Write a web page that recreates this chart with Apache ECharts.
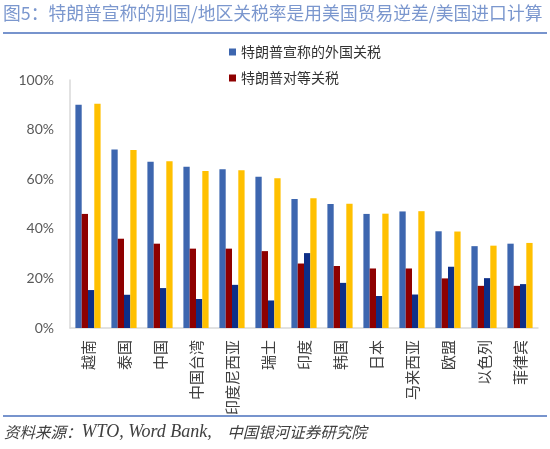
<!DOCTYPE html>
<html>
<head>
<meta charset="utf-8">
<script src="https://cdn.jsdelivr.net/npm/echarts@6/dist/echarts.min.js"></script>
<style>
html,body{margin:0;padding:0;background:#fff;}
#c{width:550px;height:449px;}
</style>
</head>
<body>
<div id="c"></div>
<script>
const categories = ['越南','泰国','中国','中国台湾','印度尼西亚','瑞士','印度','韩国','日本','马来西亚','欧盟','以色列','菲律宾'];
const claimedTariff = [90, 72, 67, 65, 64, 61, 52, 50, 46, 47, 39, 33, 34];
const reciprocalTariff = [46, 36, 34, 32, 32, 31, 26, 25, 24, 24, 20, 17, 17];
const series3 = [15.3, 13.4, 16.1, 11.7, 17.4, 11.1, 30.2, 18.2, 12.9, 13.5, 24.7, 20.1, 17.7];
const series4 = [90.4, 71.8, 67.2, 63.3, 63.6, 60.4, 52.3, 50.1, 46.1, 47.1, 38.9, 33.2, 34.3];
const yTicks = [0, 20, 40, 60, 80, 100];

const CJK = '"Noto Sans CJK SC", "Noto Sans", sans-serif';
const chart = echarts.init(document.getElementById('c'));
chart.setOption({
  animation: false,
  textStyle: { fontFamily: CJK },
  graphic: [
    { type: 'text', left: 3, top: 4, style: { text: '图5：特朗普宣称的别国/地区关税率是用美国贸易逆差/美国进口计算', fill: '#7B97CE', font: '17.8px ' + CJK } },
    { type: 'line', shape: { x1: 3, y1: 33, x2: 547, y2: 33 }, style: { stroke: '#4A70BC', lineWidth: 1.5 } },
    { type: 'line', shape: { x1: 3, y1: 416, x2: 547, y2: 416 }, style: { stroke: '#4A70BC', lineWidth: 1.5 } },
    { type: 'text', left: 4, top: 423, style: {
      text: '{c|资料来源：}{l|WTO, Word Bank,}{c|　中国银河证券研究院}',
      rich: {
        c: { fill: '#404040', fontStyle: 'italic', fontSize: 15.5, fontFamily: CJK },
        l: { fill: '#404040', fontStyle: 'italic', fontSize: 18, fontFamily: '"Liberation Serif", serif' }
      }
    } }
  ],
  legend: {
    data: ['特朗普宣称的外国关税', '特朗普对等关税'],
    orient: 'vertical',
    left: 224,
    top: 40,
    itemWidth: 7,
    itemHeight: 7,
    itemGap: 12,
    icon: 'rect',
    textStyle: { fontSize: 14, color: '#333', fontFamily: CJK }
  },
  grid: { left: 70, right: 12, top: 80, bottom: 121, containLabel: false },
  xAxis: {
    type: 'category',
    data: categories,
    axisLine: { lineStyle: { color: '#D9D9D9', width: 1.5 } },
    axisTick: { show: false },
    axisLabel: { rotate: 90, interval: 0, margin: 12, fontSize: 15, color: '#404040', fontFamily: CJK }
  },
  yAxis: {
    type: 'value',
    min: yTicks[0],
    max: yTicks[yTicks.length - 1],
    interval: yTicks[1] - yTicks[0],
    axisLine: { show: true, lineStyle: { color: '#D9D9D9', width: 1.5 } },
    axisTick: { show: false },
    splitLine: { show: false },
    axisLabel: { formatter: '{value}%', fontSize: 14, color: '#595959', margin: 16, fontFamily: '"Lato", "Noto Sans", sans-serif' }
  },
  series: [
    { name: '特朗普宣称的外国关税', type: 'bar', data: claimedTariff, itemStyle: { color: '#3D66AF' }, barGap: '0%', barCategoryGap: '30%' },
    { name: '特朗普对等关税', type: 'bar', data: reciprocalTariff, itemStyle: { color: '#8E0000' } },
    { name: '系列3', type: 'bar', data: series3, itemStyle: { color: '#0D2F88' } },
    { name: '系列4', type: 'bar', data: series4, itemStyle: { color: '#FFC000' } }
  ]
});
</script>
</body>
</html>
